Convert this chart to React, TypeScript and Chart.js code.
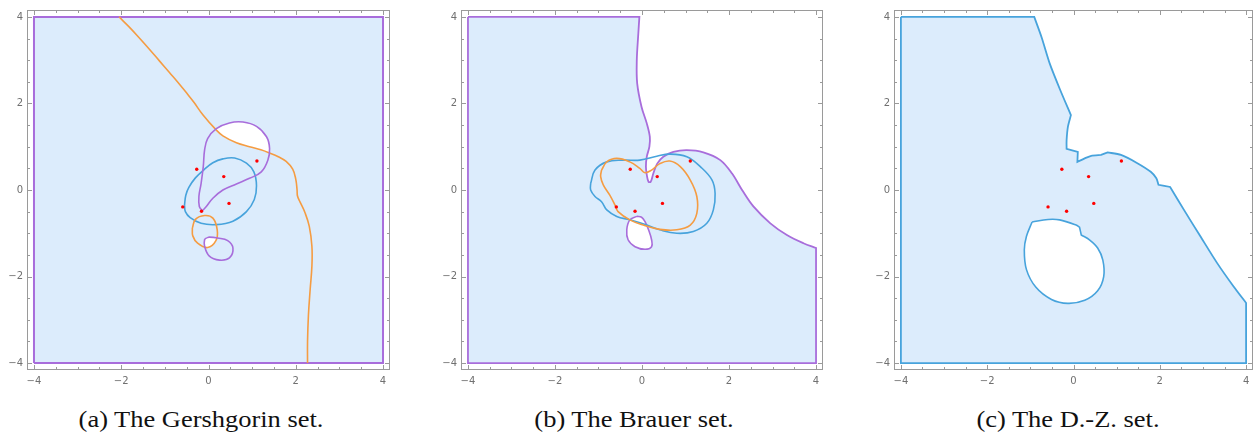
import React, { useEffect, useRef } from "react";
import { Chart, registerables } from "chart.js";

Chart.register(...registerables);

// ---------- axis ticks ----------
const majorTicks = [-4, -2, 0, 2, 4];
const minorTicks = [-3.5, -3, -2.5, -1.5, -1, -0.5, 0.5, 1, 1.5, 2.5, 3, 3.5];

// ---------- eigenvalues (red points) ----------
const eigenvalues: [number, number][] = [
  [-0.27, 0.48], [0.35, 0.31], [1.11, 0.67], [-0.59, -0.39], [-0.16, -0.49], [0.47, -0.31],
];

// ---------- (a) Gershgorin ----------
const gershSquare: [number, number][] = [
  [-4, -4], [-4, -4], [4, -4], [4, -4], [4, 4], [4, 4], [-4, 4], [-4, 4], [-4, -4], [-4, -4],
];
const gershOrangeOpen: [number, number][] = [
  [-2.05, 4.0], [-1.82, 3.77], [-1.59, 3.52], [-1.36, 3.26], [-1.13, 2.99], [-0.9, 2.72],
  [-0.67, 2.45], [-0.5, 2.24], [-0.33, 2.02], [-0.13, 1.74], [0.165, 1.4], [0.33, 1.25],
  [0.64, 1.09], [0.94, 1.0], [1.2, 0.93], [1.39, 0.86], [1.6, 0.77], [1.78, 0.66],
  [1.93, 0.48], [2.0, 0.25], [2.03, 0.0], [2.04, -0.14], [2.1, -0.28], [2.21, -0.52],
  [2.31, -0.84], [2.37, -1.3], [2.37, -1.76], [2.33, -2.3], [2.29, -2.9], [2.27, -3.5], [2.27, -4.0],
];
const gershOrangeLoop: [number, number][] = [
  [-0.37, -0.88], [-0.3, -0.68], [-0.09, -0.59], [0.1, -0.65], [0.2, -0.92], [0.17, -1.17],
  [-0.02, -1.33], [-0.25, -1.23], [-0.36, -1.06], [-0.37, -0.88],
];
const gershBlueLoop: [number, number][] = [
  [-0.55, -0.35], [-0.52, -0.12], [-0.45, 0.06], [-0.3, 0.28], [-0.1, 0.47], [0.1, 0.63],
  [0.33, 0.72], [0.6, 0.74], [0.87, 0.62], [1.04, 0.42], [1.1, 0.1], [1.05, -0.22],
  [0.87, -0.5], [0.56, -0.72], [0.18, -0.8], [-0.17, -0.77], [-0.42, -0.64], [-0.53, -0.5], [-0.55, -0.35],
];
const gershPurpleBigLoop: [number, number][] = [
  [-0.14, -0.48], [-0.21, -0.38], [-0.22, -0.15], [-0.17, 0.15], [-0.12, 0.54], [-0.09, 0.92],
  [-0.02, 1.19], [0.18, 1.42], [0.48, 1.55], [0.79, 1.57], [1.1, 1.47], [1.33, 1.23],
  [1.4, 0.96], [1.36, 0.69], [1.21, 0.42], [0.94, 0.27], [0.64, 0.14], [0.33, 0.0],
  [0.1, -0.19], [-0.05, -0.38], [-0.14, -0.48],
];
const gershPurpleSmallLoop: [number, number][] = [
  [-0.05, -1.11], [0.02, -1.09], [0.21, -1.11], [0.44, -1.17], [0.56, -1.34], [0.48, -1.57],
  [0.25, -1.62], [0.02, -1.53], [-0.09, -1.3], [-0.09, -1.15], [-0.05, -1.11],
];
const gershWhiteTop: [number, number][] = [
  [0.165, 1.4], [0.18, 1.42], [0.48, 1.55], [0.79, 1.57], [1.1, 1.47], [1.33, 1.23],
  [1.4, 0.96], [1.39, 0.86], [1.2, 0.93], [0.94, 1.0], [0.64, 1.09], [0.33, 1.25], [0.165, 1.4],
];
const gershWhiteLow: [number, number][] = [
  [-0.07, -1.11], [0.02, -1.09], [0.19, -1.1], [0.17, -1.19], [0.08, -1.28], [-0.02, -1.33],
  [-0.09, -1.29], [-0.09, -1.15], [-0.07, -1.11],
];

// ---------- (b) Brauer ----------
const brauerPurpleBoundary: [number, number][] = [
  [-4, 4], [-4, 4], [-0.06, 4], [-0.06, 4], [-0.085, 3.61], [-0.12, 2.99], [-0.11, 2.46],
  [-0.01, 1.92], [0.11, 1.54], [0.18, 1.23], [0.17, 1.0], [0.11, 0.77], [0.09, 0.54],
  [0.11, 0.35], [0.15, 0.19], [0.2, 0.19], [0.26, 0.38], [0.35, 0.61], [0.49, 0.77],
  [0.72, 0.88], [1.03, 0.92], [1.41, 0.87], [1.8, 0.69], [2.07, 0.38], [2.3, 0.0],
  [2.56, -0.38], [2.95, -0.77], [3.33, -1.04], [3.71, -1.23], [4, -1.34], [4, -1.34],
  [4, -4], [4, -4], [-4, -4], [-4, -4], [-4, 4],
];
const brauerPurpleHole: [number, number][] = [
  [-0.12, -0.61], [-0.28, -0.69], [-0.35, -0.92], [-0.32, -1.15], [-0.16, -1.31], [0.07, -1.37],
  [0.22, -1.31], [0.22, -1.15], [0.15, -0.92], [0.07, -0.73], [-0.01, -0.63], [-0.12, -0.61],
];
const brauerBlueLoop: [number, number][] = [
  [-1.18, 0.15], [-1.08, 0.46], [-0.81, 0.65], [-0.43, 0.69], [-0.05, 0.69], [0.34, 0.78],
  [0.64, 0.83], [1.03, 0.77], [1.34, 0.54], [1.61, 0.23], [1.68, -0.08], [1.64, -0.46],
  [1.49, -0.77], [1.18, -0.96], [0.8, -1.0], [0.41, -0.92], [0.11, -0.81], [-0.28, -0.69],
  [-0.58, -0.61], [-0.81, -0.46], [-0.93, -0.27], [-1.08, -0.15], [-1.18, 0.0], [-1.18, 0.15],
];
const brauerOrangeLoop: [number, number][] = [
  [-0.93, 0.46], [-0.81, 0.65], [-0.58, 0.73], [-0.28, 0.65], [-0.05, 0.5], [0.07, 0.4],
  [0.22, 0.46], [0.41, 0.61], [0.64, 0.67], [0.88, 0.54], [1.11, 0.23], [1.26, -0.15],
  [1.26, -0.54], [1.11, -0.81], [0.8, -0.92], [0.41, -0.91], [0.03, -0.81], [-0.28, -0.69],
  [-0.55, -0.5], [-0.62, -0.35], [-0.74, -0.12], [-0.89, 0.12], [-0.95, 0.31], [-0.93, 0.46],
];

// ---------- (c) D.-Z. ----------
const dzBoundary: [number, number][] = [
  [-4, 4], [-4, 4], [-0.91, 4], [-0.91, 4], [-0.74, 3.53], [-0.55, 2.92], [-0.32, 2.34],
  [-0.06, 1.73], [-0.06, 1.73], [-0.13, 1.46], [-0.16, 1.15], [-0.16, 0.95], [-0.16, 0.95],
  [0.1, 0.88], [0.1, 0.88], [0.09, 0.65], [0.09, 0.65], [0.26, 0.73], [0.41, 0.79],
  [0.64, 0.81], [0.64, 0.81], [0.79, 0.87], [0.79, 0.87], [1.1, 0.81], [1.48, 0.62],
  [1.79, 0.42], [1.92, 0.27], [1.97, 0.12], [1.97, 0.12], [2.24, 0.07], [2.24, 0.07],
  [2.56, -0.46], [2.94, -1.07], [3.33, -1.69], [3.71, -2.23], [4, -2.61], [4, -2.61],
  [4, -4], [4, -4], [-4, -4], [-4, -4], [-4, 4],
];
const dzHole: [number, number][] = [
  [-0.96, -0.74], [-0.96, -0.74], [-0.59, -0.68], [-0.32, -0.69], [0.06, -0.81], [0.14, -0.86],
  [0.14, -0.86], [0.18, -1.04], [0.18, -1.04], [0.37, -1.15], [0.56, -1.34], [0.68, -1.62],
  [0.7, -2.0], [0.56, -2.33], [0.26, -2.55], [-0.13, -2.62], [-0.51, -2.53], [-0.87, -2.25],
  [-1.09, -1.84], [-1.14, -1.38], [-1.09, -1.07], [-0.96, -0.74],
];

// ---------- styles ----------
const BLUE = "#47a3dc";
const ORANGE = "#f59c42";
const PURPLE = "#a86ddb";
const FILL = "#dcecfc";
const RANGE = 4.16;

const pts = (arr: [number, number][]) => arr.map(([x, y]) => ({ x, y }));

function curve(arr: [number, number][], color: string, opts: any = {}) {
  return {
    data: pts(arr),
    showLine: true,
    borderColor: color,
    borderWidth: opts.width ?? 1.6,
    pointRadius: 0,
    tension: opts.tension ?? 0.4,
    fill: opts.fill ? "shape" : false,
    backgroundColor: opts.fill ?? "transparent",
    order: opts.order ?? 2,
  };
}

function points() {
  return {
    data: pts(eigenvalues),
    showLine: false,
    pointRadius: 1.7,
    pointBackgroundColor: "#ff0000",
    pointBorderWidth: 0,
    order: 0,
  };
}

const fmt = (v: any) => {
  const n = Number(v);
  return n < 0 ? "\u2212" + Math.abs(n) : String(n);
};

const framePlugin = {
  id: "frame",
  afterDraw(chart: any) {
    const { ctx, chartArea: a, scales } = chart;
    const xs = scales.x;
    const ys = scales.y;
    ctx.save();
    ctx.strokeStyle = "#9a9a9a";
    ctx.lineWidth = 1;
    ctx.strokeRect(a.left + 0.5, a.top + 0.5, a.right - a.left - 1, a.bottom - a.top - 1);
    ctx.beginPath();
    const all = [...majorTicks.map((v) => [v, 5]), ...minorTicks.map((v) => [v, 3])];
    for (const [v, len] of all) {
      const px = Math.round(xs.getPixelForValue(v)) + 0.5;
      ctx.moveTo(px, a.bottom);
      ctx.lineTo(px, a.bottom - len);
      ctx.moveTo(px, a.top);
      ctx.lineTo(px, a.top + len);
      const py = Math.round(ys.getPixelForValue(v)) + 0.5;
      ctx.moveTo(a.left, py);
      ctx.lineTo(a.left + len, py);
      ctx.moveTo(a.right, py);
      ctx.lineTo(a.right - len, py);
    }
    ctx.stroke();
    ctx.restore();
  },
};

function makeConfig(datasets: any[], padRight: number) {
  const tickFont = { family: "'DejaVu Sans', sans-serif", size: 10 };
  return {
    type: "scatter",
    data: { datasets },
    options: {
      animation: false,
      responsive: false,
      events: [],
      layout: { padding: { left: 0, right: padRight, top: 8, bottom: 0 } },
      plugins: { legend: { display: false }, tooltip: { enabled: false } },
      scales: {
        x: {
          type: "linear",
          min: -RANGE,
          max: RANGE,
          grid: { display: false, drawTicks: false },
          border: { display: false },
          afterBuildTicks: (s: any) => {
            s.ticks = majorTicks.map((v) => ({ value: v }));
          },
          afterFit: (s: any) => {
            s.height = 22;
          },
          ticks: { padding: 5, color: "#707070", font: tickFont, callback: fmt, maxRotation: 0, autoSkip: false },
        },
        y: {
          type: "linear",
          min: -RANGE,
          max: RANGE,
          grid: { display: false, drawTicks: false },
          border: { display: false },
          afterBuildTicks: (s: any) => {
            s.ticks = majorTicks.map((v) => ({ value: v }));
          },
          afterFit: (s: any) => {
            s.width = 27;
          },
          ticks: { padding: 4, color: "#707070", font: tickFont, callback: fmt, autoSkip: false },
        },
      },
    },
    plugins: [framePlugin],
  };
}

function Panel({ datasets, left, width, padRight }: any) {
  const ref = useRef<HTMLCanvasElement>(null);
  useEffect(() => {
    const chart = new Chart(ref.current as HTMLCanvasElement, makeConfig(datasets(), padRight) as any);
    return () => chart.destroy();
  }, []);
  return (
    <canvas
      ref={ref}
      width={width}
      height={392}
      style={{ position: "absolute", left, top: 0, width, height: 392 }}
    />
  );
}

const gershDatasets = () => [
  points(),
  curve(gershOrangeOpen, ORANGE, { order: 2 }),
  curve(gershOrangeLoop, ORANGE, { order: 2 }),
  curve(gershBlueLoop, BLUE, { order: 3 }),
  curve(gershPurpleBigLoop, PURPLE, { order: 1 }),
  curve(gershPurpleSmallLoop, PURPLE, { order: 1 }),
  curve(gershWhiteTop, "transparent", { fill: "#ffffff", width: 0, order: 8 }),
  curve(gershWhiteLow, "transparent", { fill: "#ffffff", width: 0, order: 8 }),
  curve(gershSquare, PURPLE, { fill: FILL, width: 2, tension: 0, order: 9 }),
];

const brauerDatasets = () => [
  points(),
  curve(brauerOrangeLoop, ORANGE, { order: 2 }),
  curve(brauerBlueLoop, BLUE, { order: 3 }),
  curve(brauerPurpleHole, PURPLE, { fill: "#ffffff", order: 4 }),
  curve(brauerPurpleBoundary, PURPLE, { fill: FILL, width: 1.8, tension: 0.35, order: 9 }),
];

const dzDatasets = () => [
  points(),
  curve(dzHole, BLUE, { fill: "#ffffff", order: 4, tension: 0.35 }),
  curve(dzBoundary, BLUE, { fill: FILL, width: 1.8, tension: 0.25, order: 9 }),
];

const captions = [
  { text: "(a) The Gershgorin set.", center: 201 },
  { text: "(b) The Brauer set.", center: 634 },
  { text: "(c) The D.-Z. set.", center: 1068 },
];

export default function App() {
  return (
    <div style={{ position: "absolute", left: 0, top: 0, width: 1257, height: 436, background: "#fff", overflow: "hidden" }}>
      <Panel datasets={gershDatasets} left={0} width={400} padRight={10} />
      <Panel datasets={brauerDatasets} left={434} width={400} padRight={11} />
      <Panel datasets={dzDatasets} left={867} width={390} padRight={1} />
      {captions.map((c) => (
        <div
          key={c.text}
          style={{
            position: "absolute",
            left: c.center - 200,
            width: 400,
            top: 408,
            textAlign: "center",
            fontFamily: "'Liberation Serif', serif",
            fontSize: 23,
            lineHeight: "23px",
            color: "#111",
            transform: "scaleX(1.15)",
            whiteSpace: "nowrap",
          }}
        >
          {c.text}
        </div>
      ))}
    </div>
  );
}
